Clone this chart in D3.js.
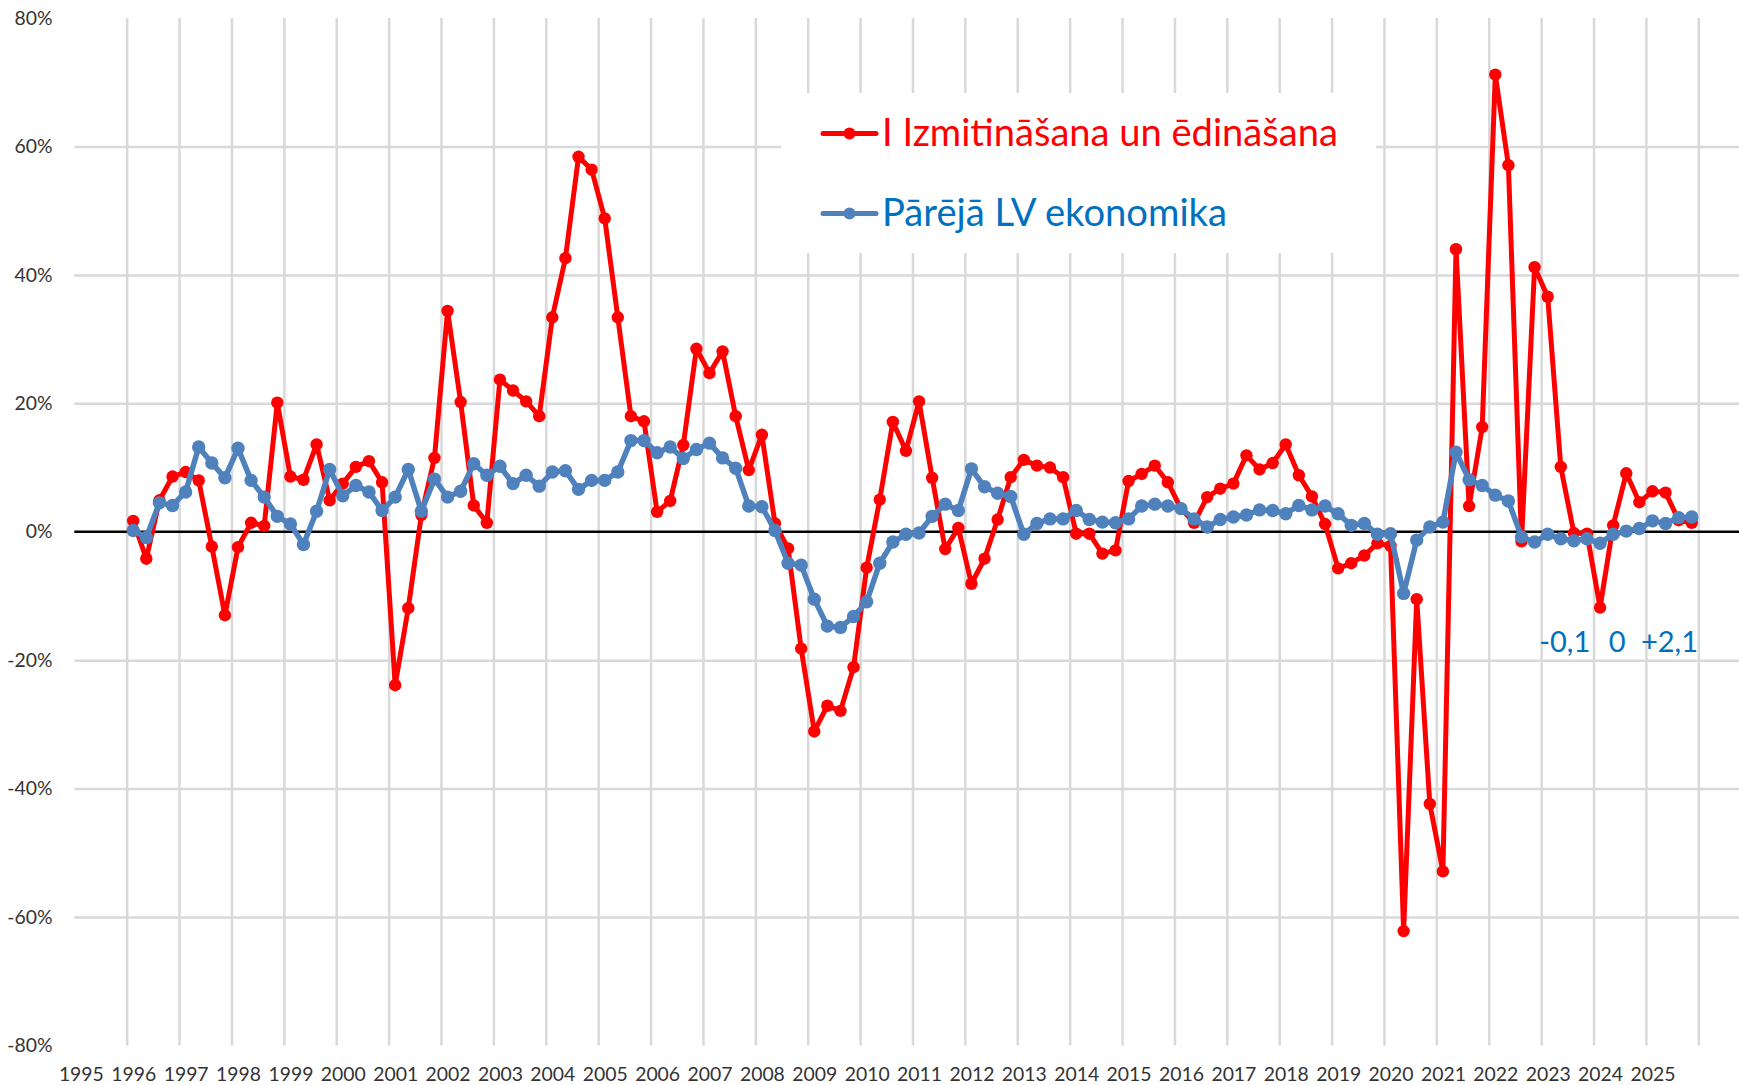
<!DOCTYPE html>
<html>
<head>
<meta charset="utf-8">
<script src="https://cdn.jsdelivr.net/npm/d3@7"></script>
<style>
  body { margin: 0; background: #fff; }
  svg { display: block; font-family: Lato, 'Open Sans', sans-serif; }
</style>
</head>
<body>
<svg id="chart" width="1739" height="1085"></svg>
<script>
// quarterly y/y change, %, 1996 Q1 .. 2025 Q4
const startYear = 1996;
const izmitinasana = [
  1.7, -4.2, 4.9, 8.6, 9.3, 8.0, -2.3, -13.0, -2.4, 1.4, 0.9, 20.1,
  8.6, 8.1, 13.6, 4.9, 7.5, 10.1, 11.0, 7.7, -23.9, -11.9, 2.6, 11.5,
  34.4, 20.2, 4.1, 1.4, 23.7, 22.0, 20.3, 18.0, 33.4, 42.6, 58.4, 56.4,
  48.8, 33.4, 18.0, 17.2, 3.1, 4.8, 13.5, 28.5, 24.7, 28.1, 18.0, 9.6,
  15.1, 1.3, -2.6, -18.2, -31.1, -27.1, -27.9, -21.1, -5.6, 5.0, 17.1, 12.6,
  20.3, 8.4, -2.7, 0.6, -8.1, -4.2, 1.9, 8.5, 11.2, 10.3, 10.0, 8.5,
  -0.3, -0.3, -3.4, -2.9, 7.9, 9.0, 10.3, 7.7, 3.6, 1.4, 5.4, 6.7,
  7.5, 11.9, 9.7, 10.7, 13.6, 8.8, 5.5, 1.2, -5.7, -4.9, -3.7, -1.8,
  -2.2, -62.2, -10.5, -42.4, -52.9, 44.0, 4.0, 16.3, 71.2, 57.1, -1.5, 41.2,
  36.6, 10.1, -0.2, -0.3, -11.8, 1.0, 9.1, 4.6, 6.3, 6.1, 1.8, 1.4
];
const parejaEkonomika = [
  0.2, -0.9, 4.5, 4.1, 6.2, 13.2, 10.7, 8.4, 13.0, 8.0, 5.4, 2.4,
  1.2, -2.0, 3.2, 9.7, 5.6, 7.2, 6.2, 3.3, 5.4, 9.7, 3.2, 8.2,
  5.4, 6.3, 10.6, 8.8, 10.2, 7.5, 8.8, 7.1, 9.3, 9.5, 6.6, 8.0,
  8.0, 9.3, 14.2, 14.2, 12.3, 13.2, 11.4, 12.8, 13.8, 11.5, 9.9, 4.0,
  3.9, 0.2, -4.9, -5.2, -10.5, -14.7, -14.9, -13.2, -10.9, -4.9, -1.6, -0.4,
  -0.2, 2.4, 4.3, 3.3, 9.8, 7.0, 6.0, 5.5, -0.4, 1.3, 2.0, 2.0,
  3.3, 1.9, 1.5, 1.4, 2.0, 4.0, 4.3, 4.0, 3.6, 2.0, 0.75, 1.9,
  2.3, 2.6, 3.4, 3.3, 2.8, 4.1, 3.4, 4.0, 2.8, 1.0, 1.3, -0.4,
  -0.3, -9.6, -1.3, 0.75, 1.5, 12.4, 8.1, 7.2, 5.7, 4.8, -0.8, -1.6,
  -0.4, -1.1, -1.4, -1.1, -1.8, -0.4, 0.1, 0.5, 1.7, 1.3, 2.2, 2.3
];
const yearLabels = d3.range(1995, 2026);
const yTicks = [-80, -60, -40, -20, 0, 20, 40, 60, 80];
const legendNames = ['I Izmitināšana un ēdināšana', 'Pārējā LV ekonomika'];
const noteYears = [2023, 2024, 2025];
const noteLabels = ['-0,1', '0', '+2,1'];

const W = 1739;
const svg = d3.select('#chart');

const x = d3.scaleLinear().domain([1995, 2026]).range([74.3, 1698.3]);
const y = d3.scaleLinear().domain([-80, 80]).range([1045.4, 18.1]);
const qYear = i => startYear + (i + 0.5) / 4;

function fitFont(sel, target) {
  const w = sel.node().getComputedTextLength();
  const fs = parseFloat(sel.attr('font-size'));
  return fs * target / w;
}

// grid
const gGrid = svg.append('g');
gGrid.append('g')
  .attr('transform', `translate(0,${y(-80)})`)
  .call(d3.axisBottom(x).tickValues(d3.range(1996, 2027)).tickSize(-(y(-80) - y(80))).tickFormat(''))
  .call(g => g.select('.domain').remove())
  .call(g => g.selectAll('line').attr('stroke', '#d9d9d9').attr('stroke-width', 2.5));
gGrid.append('g')
  .attr('transform', `translate(${x(1995)},0)`)
  .call(d3.axisLeft(y).tickValues(yTicks.filter(v => v !== 0 && Math.abs(v) < 80))
    .tickSize(-(W - x(1995))).tickFormat(''))
  .call(g => g.select('.domain').remove())
  .call(g => g.selectAll('line').attr('stroke', '#d9d9d9').attr('stroke-width', 2.5));

// y labels
const yAxis = svg.append('g')
  .attr('transform', 'translate(52.5,0)')
  .call(d3.axisLeft(y).tickValues(yTicks).tickSize(0).tickPadding(0).tickFormat(d => `${d}%`))
  .call(g => g.select('.domain').remove());
yAxis.selectAll('text').attr('font-family', 'Lato').attr('font-size', 20).attr('fill', '#333');

// x labels, centred on first quarter of each year
const xAxis = svg.append('g')
  .attr('transform', `translate(0,${1067})`)
  .call(d3.axisBottom(x).tickValues(yearLabels.map(v => v + 0.125)).tickSize(0).tickPadding(0)
    .tickFormat((d, i) => yearLabels[i]))
  .call(g => g.select('.domain').remove());
xAxis.selectAll('text').attr('font-family', 'Lato').attr('font-size', 20).attr('fill', '#333');
const axFs = fitFont(xAxis.select('text'), 45);
xAxis.selectAll('text').attr('font-size', axFs).attr('dy', '0.71em');
yAxis.selectAll('text').attr('font-size', axFs);

// zero line
svg.append('line')
  .attr('x1', x(1995)).attr('x2', W)
  .attr('y1', y(0)).attr('y2', y(0))
  .attr('stroke', '#000').attr('stroke-width', 2.5);

// legend
const gLeg = svg.append('g');
gLeg.append('rect')
  .attr('x', 781).attr('y', 93).attr('width', 595).attr('height', 160)
  .attr('fill', '#fff');
const legItems = [
  { name: legendNames[0], color: '#ff0000', text: '#ff0000', cy: 133.5, target: 456 },
  { name: legendNames[1], color: '#4f81bd', text: '#0070c0', cy: 213.5, target: 345 },
];
legItems.forEach((d) => {
  const g = gLeg.append('g');
  g.append('line').attr('x1', 823).attr('x2', 876).attr('y1', d.cy).attr('y2', d.cy)
    .attr('stroke', d.color).attr('stroke-width', 5).attr('stroke-linecap', 'round');
  g.append('circle').attr('cx', 849.5).attr('cy', d.cy).attr('r', 6).attr('fill', d.color);
  const t = g.append('text').attr('x', 882).attr('y', d.cy + 12.5)
    .attr('font-size', 36).attr('fill', d.text).text(d.name);
  t.attr('font-size', fitFont(t, d.target));
});

// series
const series = [
  { values: izmitinasana, color: '#ff0000', width: 5, r: 6.2 },
  { values: parejaEkonomika, color: '#4f81bd', width: 5.5, r: 6.7 },
];
const line = d3.line().x((d, i) => x(qYear(i))).y(d => y(d));
series.forEach((s) => {
  const g = svg.append('g');
  g.append('path')
    .datum(s.values)
    .attr('fill', 'none')
    .attr('stroke', s.color)
    .attr('stroke-width', s.width)
    .attr('stroke-linejoin', 'round')
    .attr('d', line);
  g.selectAll('circle')
    .data(s.values)
    .join('circle')
    .attr('cx', (d, i) => x(qYear(i)))
    .attr('cy', d => y(d))
    .attr('r', s.r)
    .attr('fill', s.color);
});

// annual notes
const notes = svg.append('g').attr('fill', '#0070c0').attr('text-anchor', 'middle');
notes.selectAll('text')
  .data(noteLabels)
  .join('text')
  .attr('x', (d, i) => x(noteYears[i] + 0.45))
  .attr('y', 652)
  .attr('font-size', 29)
  .text(d => d);
</script>
</body>
</html>
